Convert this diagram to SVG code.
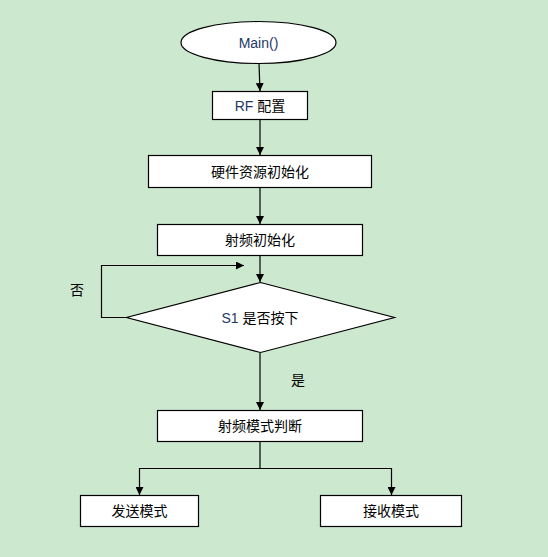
<svg xmlns="http://www.w3.org/2000/svg" width="548" height="557" viewBox="0 0 548 557">
<style>
.box{fill:#ffffff;stroke:#000000;stroke-width:1.2}
.ln{fill:none;stroke:#000000;stroke-width:1.2}
.t{font-family:"Liberation Sans","Noto Sans CJK SC",sans-serif;font-size:14px;fill:#000000;text-anchor:middle}
.en{fill:#1f3864}
</style>
<defs>
<marker id="ah" markerWidth="8" markerHeight="8" refX="8" refY="4" orient="auto" markerUnits="userSpaceOnUse">
<path d="M0,0 L8,4 L0,8 Z" fill="#000000"/>
</marker>
</defs>
<rect width="548" height="557" fill="#cce8cf"/>
<g id="connectors">
<line class="ln" x1="259" y1="63.5" x2="260" y2="91" marker-end="url(#ah)"/>
<line class="ln" x1="260" y1="119.5" x2="260" y2="155" marker-end="url(#ah)"/>
<line class="ln" x1="260" y1="187.5" x2="260" y2="224" marker-end="url(#ah)"/>
<line class="ln" x1="260" y1="255.5" x2="260" y2="282" marker-end="url(#ah)"/>
<polyline class="ln" points="127,317.5 101.5,317.5 101.5,265.5 244,265.5" marker-end="url(#ah)"/>
<line class="ln" x1="260" y1="353" x2="260" y2="410" marker-end="url(#ah)"/>
<polyline class="ln" points="260,441.5 260,468.5 139.5,468.5 139.5,495" marker-end="url(#ah)"/>
<polyline class="ln" points="260,468.5 391.5,468.5 391.5,495" marker-end="url(#ah)"/>
</g>
<g id="main">
<ellipse class="box" cx="258.5" cy="42.5" rx="77.5" ry="21"/>
<text class="t en" x="258.5" y="47.5">Main()</text>
</g>
<g id="rf">
<rect class="box" x="212.5" y="91.5" width="95" height="28"/>
<text class="t" x="260" y="110.5"><tspan class="en">RF</tspan> 配置</text>
</g>
<g id="hw">
<rect class="box" x="148.5" y="155.5" width="223" height="32"/>
<text class="t" x="260" y="176.5">硬件资源初始化</text>
</g>
<g id="rfinit">
<rect class="box" x="157.5" y="224.5" width="205" height="31"/>
<text class="t" x="260" y="245">射频初始化</text>
</g>
<g id="s1">
<polygon class="box" points="260.5,282.5 394.5,317.5 260.5,352.5 126.5,317.5"/>
<text class="t" x="260" y="322.5"><tspan class="en">S1</tspan> 是否按下</text>
</g>
<g id="labels">
<text class="t" x="77" y="295">否</text>
<text class="t" x="298" y="385">是</text>
</g>
<g id="mode">
<rect class="box" x="157.5" y="410.5" width="205" height="31"/>
<text class="t" x="260" y="431">射频模式判断</text>
</g>
<g id="tx">
<rect class="box" x="80.5" y="495.5" width="118" height="31"/>
<text class="t" x="139.5" y="516">发送模式</text>
</g>
<g id="rx">
<rect class="box" x="320.5" y="495.5" width="141" height="31"/>
<text class="t" x="391" y="516">接收模式</text>
</g>
</svg>
